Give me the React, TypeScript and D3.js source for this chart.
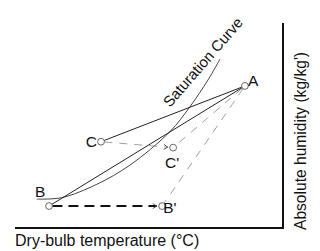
import * as d3 from "d3";
import { useRef, useEffect } from "react";

// state points on the chart (arbitrary units, 0-100 on each axis)
const pointNames = ["A", "B", "C", "B'", "C'"];
const pointTemp = [85.8, 12.7, 32.1, 54.9, 59.0];
const pointHum = [69.3, 10.7, 42.1, 10.7, 39.2];

// saturation curve
const satTemp = [8.1, 17.4, 30.5, 42.9, 57.8, 65.3, 72.0, 76.5];
const satHum = [14.1, 14.8, 21.3, 30.7, 47.0, 59.2, 72.2, 82.4];

// process lines: from, to, kind
const linkFrom = ["C", "B", "A", "A", "C", "B"];
const linkTo = ["A", "A", "C'", "B'", "C'", "B'"];
const linkKind = ["solid", "solid", "grey", "grey", "grey", "black"];

const xTitle = "Dry-bulb temperature (°C)";
const yTitle = "Absolute humidity (kg/kg')";
const curveTitle = "Saturation Curve";

const W = 320;
const H = 251;
const FONT = "Arial, 'Liberation Sans', Helvetica, sans-serif";

const App = () => {
    const svgRef = useRef(null);

    useEffect(() => {
        const svg = d3.select(svgRef.current);
        svg.selectAll("*").remove();

        const x = d3.scaleLinear().domain([0, 100]).range([15, 283]);
        const y = d3.scaleLinear().domain([0, 100]).range([228, 23]);

        const pos = {};
        pointNames.forEach((n, i) => {
            pos[n] = [x(pointTemp[i]), y(pointHum[i])];
        });

        // axes: bottom and right lines only
        svg.append("line")
            .attr("x1", x(0)).attr("x2", x(100) + 1)
            .attr("y1", y(0)).attr("y2", y(0))
            .attr("stroke", "#111").attr("stroke-width", 2);
        svg.append("line")
            .attr("x1", x(100)).attr("x2", x(100))
            .attr("y1", y(100)).attr("y2", y(0) + 1)
            .attr("stroke", "#111").attr("stroke-width", 2);

        // saturation curve
        const satLine = d3.line()
            .x((d) => x(d[0]))
            .y((d) => y(d[1]))
            .curve(d3.curveCatmullRom.alpha(0.5));
        svg.append("path")
            .datum(satTemp.map((t, i) => [t, satHum[i]]))
            .attr("d", satLine)
            .attr("fill", "none")
            .attr("stroke", "#444")
            .attr("stroke-width", 1);

        // process lines
        const styles = {
            solid: { stroke: "#222", width: 1, dash: null },
            grey: { stroke: "#888", width: 0.8, dash: "8,7" },
            black: { stroke: "#111", width: 2, dash: "10,6" },
        };
        const r = 3.4;
        linkFrom.forEach((f, i) => {
            const t = linkTo[i];
            const st = styles[linkKind[i]];
            const [x1, y1] = pos[f];
            const [x2, y2] = pos[t];
            const len = Math.hypot(x2 - x1, y2 - y1);
            const ux = (x2 - x1) / len;
            const uy = (y2 - y1) / len;
            const hasArrow = (f === "C" && t === "C'") || (f === "B" && t === "B'");
            const endGap = hasArrow ? r + 2 : r;
            const ln = svg.append("line")
                .attr("x1", x1 + ux * r).attr("y1", y1 + uy * r)
                .attr("x2", x2 - ux * endGap).attr("y2", y2 - uy * endGap)
                .attr("stroke", st.stroke)
                .attr("stroke-width", st.width);
            if (st.dash) ln.attr("stroke-dasharray", st.dash);
            if (hasArrow) {
                const bx = x2 - ux * (endGap + 4);
                const by = y2 - uy * (endGap + 4);
                svg.append("path")
                    .attr("d", `M${bx - uy * 2.5},${by + ux * 2.5} L${x2 - ux * endGap},${y2 - uy * endGap} L${bx + uy * 2.5},${by - ux * 2.5}`)
                    .attr("fill", "none")
                    .attr("stroke", "#444")
                    .attr("stroke-width", 0.9);
            }
        });

        // state circles
        svg.append("g")
            .selectAll("circle")
            .data(pointNames)
            .enter()
            .append("circle")
            .attr("cx", (d) => pos[d][0])
            .attr("cy", (d) => pos[d][1])
            .attr("r", r)
            .attr("fill", "#fff")
            .attr("stroke", "#555")
            .attr("stroke-width", 0.9);

        // point labels
        const labelOffset = {
            "A": [3, 0, "start"],
            "B": [-14, -9, "start"],
            "C": [-4, 5, "end"],
            "B'": [1, 7, "start"],
            "C'": [-8, 20, "start"],
        };
        pointNames.forEach((n) => {
            const [dx, dy, anchor] = labelOffset[n];
            svg.append("text")
                .attr("x", pos[n][0] + dx)
                .attr("y", pos[n][1] + dy)
                .attr("text-anchor", anchor)
                .attr("font-family", FONT)
                .attr("font-size", "15.5px")
                .attr("fill", "#111")
                .text(n);
        });

        // curve label
        svg.append("text")
            .attr("transform", `translate(170,108) rotate(-49)`)
            .attr("font-family", FONT)
            .attr("font-size", "15px")
            .attr("fill", "#111")
            .text(curveTitle);

        // axis titles
        svg.append("text")
            .attr("x", 15)
            .attr("y", 246)
            .attr("font-family", FONT)
            .attr("font-size", "16px")
            .attr("fill", "#111")
            .text(xTitle);
        svg.append("text")
            .attr("transform", `translate(306,230) rotate(-90)`)
            .attr("font-family", FONT)
            .attr("font-size", "15.6px")
            .attr("fill", "#111")
            .text(yTitle);
    }, []);

    return (
        <svg
            ref={svgRef}
            width={W}
            height={H}
            style={{ position: "absolute", left: 0, top: 0, background: "#fff" }}
        />
    );
};

export default App;
